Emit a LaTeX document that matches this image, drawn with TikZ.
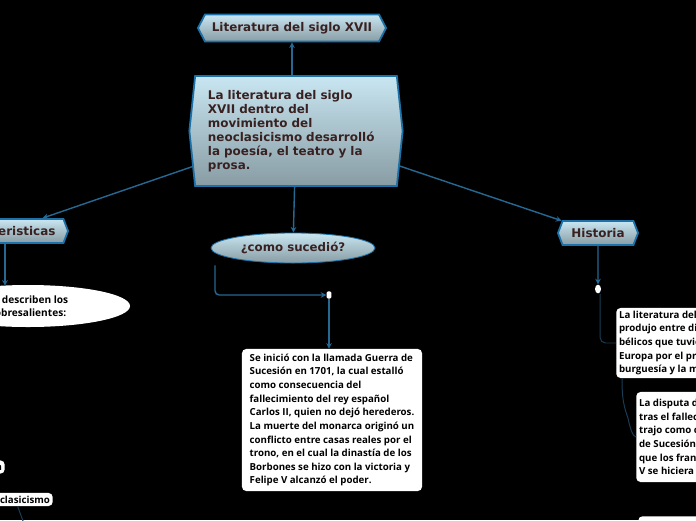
\documentclass[tikz,border=0pt]{standalone}
\usepackage{fontspec}
\setmainfont{DejaVu Sans}
\newfontfamily\cajafont{Open Sans}
\usetikzlibrary{arrows.meta,shapes.symbols,shapes.geometric,calc}
\definecolor{mapaBorde} {RGB}{28, 114, 168}
\definecolor{mapaArriba}{RGB}{200, 230, 242}
\definecolor{mapaAbajo} {RGB}{136, 156, 163}
\definecolor{mapaTexto} {RGB}{58,  33,  33}
\definecolor{mapaLinea} {RGB}{38,  104, 146}
\definecolor{mapaOscuro}{RGB}{26,  60,  84}

\tikzset{
  tema/.style={signal, signal to=west and east, draw=mapaBorde,
    line width=1.3pt, top color=mapaArriba, bottom color=mapaAbajo,
    text=mapaTexto, font=\bfseries\fontsize{8.5}{10}\selectfont,
    inner sep=0pt},
  burbuja/.style={ellipse, draw=mapaBorde, line width=0.6pt,
    top color=mapaArriba, bottom color=mapaAbajo, text=mapaTexto,
    font=\bfseries\fontsize{8.4}{10}\selectfont, inner sep=0pt},
  nota/.style={rectangle, rounded corners=3pt, fill=white, text=black,
    font=\cajafont\bfseries\fontsize{6.9}{9.7}\selectfont, align=left,
    inner sep=2pt},
  enlace/.style={draw=mapaLinea, line width=1pt,
    -{Stealth[length=4pt,width=4pt]}},
  enlaceFino/.style={draw=mapaOscuro, line width=0.7pt},
}

\begin{document}
\begin{tikzpicture}[x=0.025cm,y=-0.025cm]
  % Fondo
  \fill[black] (0,0) rectangle (696,520);
  \useasboundingbox (0,0) rectangle (696,520);

  % Nodos principales
  \node[tema, signal pointer angle=125, minimum width=4.7cm,
        minimum height=0.675cm] (titulo) at (292,28)
        {Literatura del siglo XVII};
  \node[tema, signal pointer angle=168, minimum width=5.33cm,
        minimum height=2.75cm, align=left, text width=4.4cm] (centro)
        at (296,131)
        {La literatura del siglo\\XVII dentro del\\movimiento del\\%
         neoclasicismo desarrolló\\la poesía, el teatro y la\\prosa.};
  \node[tema, signal pointer angle=138, minimum width=3.15cm,
        minimum height=0.6cm] (rasgos) at (5,231) {Caracteristicas};
  \node[tema, signal pointer angle=138, minimum width=2cm,
        minimum height=0.6cm] (historia) at (598,233) {Historia};
  \node[burbuja, minimum width=4.1cm, minimum height=0.75cm] (como)
        at (293,248) {¿como sucedió?};

  % Rama izquierda
  \node[ellipse, fill=white, text=black, align=center, inner sep=0pt,
        minimum width=5.1cm, minimum height=1.05cm,
        font=\cajafont\bfseries\fontsize{7.2}{9.5}\selectfont] (describe)
        at (28,306) {Se describen los\\sobresalientes:};
  \node[nota, anchor=east] (poesia) at (5,467) {Poesía};
  \node[nota, anchor=east] (neo) at (53,499.5) {Neoclasicismo};
  \coordinate (neoFin) at (30,540);

  % Rama central
  \node[fill=white, rounded corners=1pt, minimum width=0.12cm,
        minimum height=0.18cm, inner sep=0pt] (puntoComo) at (329,295) {};
  \node[nota, minimum width=4.5cm, minimum height=3.55cm] (guerra)
        at (332,420)
        {Se inició con la llamada Guerra de\\Sucesión en 1701, la cual estalló\\%
         como consecuencia del\\fallecimiento del rey español\\%
         Carlos II, quien no dejó herederos.\\La muerte del monarca originó un\\%
         conflicto entre casas reales por el\\trono, en el cual la dinastía de los\\%
         Borbones se hizo con la victoria y\\Felipe V alcanzó el poder.};

  % Rama derecha
  \node[ellipse, fill=white, minimum width=0.15cm, minimum height=0.22cm,
        inner sep=0pt] (puntoHist) at (598,289) {};
  \node[nota, anchor=west, minimum height=1.75cm] (hist1) at (616,343)
        {La literatura del siglo XVII se\\produjo entre distintos conflictos\\%
         bélicos que tuvieron lugar en\\Europa por el predominio de la\\%
         burguesía y la monarquía.};
  \node[nota, anchor=west, minimum height=2.25cm] (hist2) at (636,437)
        {La disputa del trono español\\tras el fallecimiento de Carlos II\\%
         trajo como consecuencia la Guerra\\de Sucesión, lo cual permitió\\%
         que los franceses y Felipe\\V se hiciera con el trono.};
  \node[nota, anchor=north west, minimum width=4cm, minimum height=1cm]
        (hist3) at (638,516) {};

  % Conectores
  \draw[enlace] (titulo.south |- centro.north) -- (titulo.south);
  \draw[enlace] (centro) -- (como);
  \draw[enlace] (centro) -- (historia);
  \draw[enlace] (centro) -- (rasgos);
  \draw[enlace] (rasgos.south) -- ($(rasgos.south |- describe.north)+(0,1)$);
  \draw[enlaceFino] (neo) -- (neoFin);
  \draw[enlace, rounded corners=3pt] ($(como.south)+(-78,2)$)
        |- (puntoComo.west);
  \draw[enlace] (puntoComo) -- (puntoComo |- guerra.north);
  \draw[enlace] (historia) -- (puntoHist);
  \draw[enlaceFino, rounded corners=4pt] ($(puntoHist.south)+(2,0)$)
        |- (hist1.west);
  \draw[enlaceFino] ($(hist1.south west)+(6,0)$)
        .. controls +(0,22) and +(-4,-12) .. ($(hist1.south west)+(12,40)$)
        .. controls +(2,10) and +(-3,0) .. (hist2.west);
\end{tikzpicture}
\end{document}
